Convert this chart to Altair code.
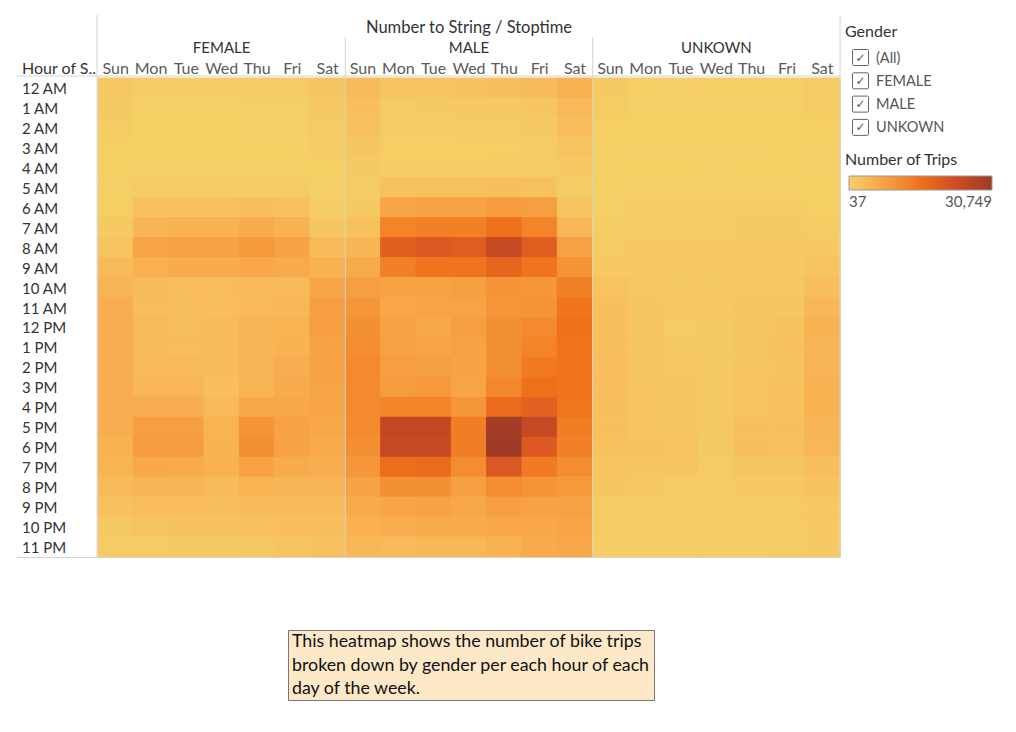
import altair as alt
import pandas as pd

days = ["Sun", "Mon", "Tue", "Wed", "Thu", "Fri", "Sat"]
genders = ["FEMALE", "MALE", "UNKOWN"]
hours = ["12 AM"] + [f"{h} AM" for h in range(1, 12)] + ["12 PM"] + [f"{h} PM" for h in range(1, 12)]

female_trips = [
    [1500, 700, 700, 700, 900, 900, 1800],
    [1200, 400, 400, 400, 450, 450, 1400],
    [900, 250, 250, 250, 300, 300, 1000],
    [600, 200, 200, 200, 200, 200, 700],
    [500, 300, 300, 300, 300, 300, 500],
    [400, 900, 900, 900, 900, 850, 400],
    [500, 2500, 2700, 2600, 3000, 2600, 700],
    [1200, 4500, 5000, 5000, 6000, 5000, 1600],
    [2000, 7000, 7500, 7500, 9000, 7500, 3500],
    [3500, 5200, 5800, 5800, 6500, 6000, 5000],
    [4500, 3500, 3300, 3300, 3800, 3800, 6800],
    [5500, 3300, 3200, 3200, 3700, 4000, 8000],
    [5500, 3700, 3300, 3600, 4500, 4800, 8000],
    [5500, 3700, 3400, 3600, 4500, 5000, 7500],
    [5500, 3900, 3800, 3500, 4500, 5500, 7500],
    [5500, 4300, 4300, 3000, 4800, 6000, 7200],
    [5500, 5500, 5500, 3800, 6500, 6500, 7000],
    [5500, 8000, 8000, 4800, 10000, 7500, 6500],
    [5000, 8500, 8500, 5000, 10500, 7500, 6200],
    [4800, 6500, 6000, 5000, 7500, 6000, 5500],
    [3500, 4500, 4500, 3500, 4800, 4500, 4500],
    [2500, 3200, 3200, 3000, 3500, 3500, 3500],
    [1500, 2000, 2300, 2300, 2500, 3000, 3000],
    [1000, 1000, 1200, 1200, 1500, 2000, 2500],
]

male_trips = [
    [3500, 2000, 2000, 2300, 2800, 3500, 5000],
    [3000, 1000, 1200, 1300, 1400, 1800, 3800],
    [2500, 700, 700, 800, 900, 1100, 3000],
    [1700, 500, 500, 600, 600, 700, 2000],
    [1200, 700, 700, 700, 800, 900, 1300],
    [900, 2500, 2700, 2700, 2800, 2500, 900],
    [1300, 7000, 7500, 7500, 8500, 8000, 2000],
    [2500, 12500, 13000, 13000, 15500, 12500, 4000],
    [4500, 19000, 20000, 19500, 24500, 19000, 7500],
    [6000, 13000, 15000, 15000, 17500, 15000, 10000],
    [8000, 7500, 7500, 8000, 10000, 9500, 13000],
    [9500, 6500, 7000, 7200, 9500, 10000, 15000],
    [10500, 7500, 6500, 8000, 10500, 11500, 15500],
    [11000, 7800, 7000, 7500, 10500, 12500, 15000],
    [11500, 8000, 8000, 7500, 10500, 14000, 15000],
    [11500, 8500, 9000, 7000, 12000, 15500, 15000],
    [11500, 12500, 12500, 9500, 16500, 18500, 14500],
    [11500, 25000, 25000, 13500, 30000, 24500, 13500],
    [10500, 24500, 24500, 13500, 30749, 20000, 13000],
    [9500, 16000, 16500, 11000, 20500, 14000, 11000],
    [7500, 10500, 10500, 8000, 11000, 10000, 9000],
    [6000, 7000, 7500, 6500, 8000, 7500, 7500],
    [5000, 5500, 6000, 6000, 6500, 6500, 7000],
    [4000, 3500, 4000, 4000, 5000, 6000, 6500],
]

unknown_trips = [
    [1200, 500, 450, 500, 550, 600, 1000],
    [800, 300, 300, 300, 300, 350, 800],
    [600, 200, 200, 200, 200, 250, 600],
    [400, 150, 150, 150, 150, 200, 400],
    [300, 200, 200, 37, 200, 200, 300],
    [250, 400, 400, 400, 400, 400, 250],
    [400, 700, 700, 700, 700, 700, 500],
    [700, 900, 900, 900, 1200, 1200, 900],
    [1000, 1300, 1300, 1300, 1400, 1400, 1300],
    [1400, 1300, 1300, 1300, 1300, 1300, 2000],
    [2200, 1500, 1200, 1200, 1500, 1500, 3000],
    [2800, 1700, 1300, 1300, 1600, 1600, 4000],
    [3000, 1700, 1000, 1200, 1600, 2300, 5000],
    [3000, 1800, 1100, 1100, 1600, 2400, 4500],
    [3200, 1800, 1500, 1100, 1700, 2300, 4500],
    [3200, 2000, 1700, 1100, 2200, 2400, 5000],
    [3000, 2000, 1800, 1100, 2200, 2500, 5000],
    [2800, 1900, 1600, 1100, 2800, 2800, 4500],
    [2500, 2300, 2200, 1100, 2800, 2600, 4200],
    [2000, 1600, 1600, 1000, 1800, 1600, 3000],
    [1600, 1500, 1000, 1000, 1400, 1300, 2300],
    [900, 900, 900, 900, 900, 900, 1400],
    [800, 800, 800, 800, 800, 800, 1300],
    [700, 700, 700, 700, 700, 900, 1200],
]

filter_items = ["(All)", "FEMALE", "MALE", "UNKOWN"]
caption_lines = [
    "This heatmap shows the number of bike trips",
    "broken down by gender per each hour of each",
    "day of the week.",
]
trip_min, trip_max = 37, 30749

rows = []
for g, table in zip(genders, [female_trips, male_trips, unknown_trips]):
    for hi, h in enumerate(hours):
        for di, d in enumerate(days):
            rows.append({"gender": g, "day": d, "col": f"{g}|{d}", "hour": h, "trips": table[hi][di]})
df = pd.DataFrame(rows)
col_order = [f"{g}|{d}" for g in genders for d in days]

FONT = "Lato"
TXT = "#333333"
GRID = "#d4d4d4"

xscale = alt.Scale(domain=col_order, paddingInner=0, paddingOuter=0)
yscale = alt.Scale(domain=hours, paddingInner=0, paddingOuter=0)
X = alt.X("col:N", scale=xscale, axis=None)
Y = alt.Y("hour:N", scale=yscale, axis=None)
cscale = alt.Scale(scheme="goldorange", domain=[trip_min, trip_max])

heat = alt.Chart(df).mark_rect(
    stroke=alt.ExprRef("scale('color', datum.trips)"), strokeWidth=1
).encode(
    x=X,
    y=Y,
    color=alt.Color(
        "trips:Q",
        scale=cscale,
        legend=alt.Legend(
            title=None,
            orient="none",
            legendX=751,
            legendY=98,
            direction="horizontal",
            gradientLength=143,
            gradientThickness=14,
            gradientStrokeColor="#999999",
            gradientStrokeWidth=1,
            values=[trip_min, trip_max],
            labelExpr="format(datum.value, ',')",
            labelFont=FONT,
            labelFontSize=15,
            labelColor="#555555",
            labelOffset=5,
        ),
    ),
    tooltip=["gender:N", "day:N", "hour:N", "trips:Q"],
)

legend_title = alt.Chart(pd.DataFrame({"t": ["Number of Trips"]})).mark_text(
    align="left", baseline="middle", font=FONT, fontSize=16, color=TXT
).encode(x=alt.value(747), y=alt.value(82), text="t:N")

hour_df = pd.DataFrame({"hour": hours})
row_labels = alt.Chart(hour_df).mark_text(
    align="left", baseline="middle", font=FONT, fontSize=15, color=TXT, dy=1
).encode(x=alt.value(-76), y=Y, text="hour:N")

col_df = pd.DataFrame({"col": col_order, "day": [c.split("|")[1] for c in col_order]})
day_labels = alt.Chart(col_df).mark_text(
    align="center", baseline="middle", font=FONT, fontSize=16, color="#5a5a5a"
).encode(x=X, y=alt.value(-9), text="day:N")

gender_df = pd.DataFrame({"col": [f"{g}|Wed" for g in genders], "gender": genders})
gender_labels = alt.Chart(gender_df).mark_text(
    align="center", baseline="middle", font=FONT, fontSize=15, color=TXT
).encode(x=X, y=alt.value(-30), text="gender:N")

title_df = pd.DataFrame({"col": ["MALE|Wed"], "t": ["Number to String / Stoptime"]})
top_title = alt.Chart(title_df).mark_text(
    align="center", baseline="middle", font=FONT, fontSize=16.5, color=TXT
).encode(x=X, y=alt.value(-50), text="t:N")

hdr_df = pd.DataFrame({"t": ["Hour of S.."]})
row_header = alt.Chart(hdr_df).mark_text(
    align="left", baseline="middle", font=FONT, fontSize=16, color=TXT
).encode(x=alt.value(-76), y=alt.value(-9), text="t:N")

sep_df = pd.DataFrame({"col": ["MALE|Sun", "UNKOWN|Sun"]})
separators = alt.Chart(sep_df).mark_rule(color=GRID, strokeWidth=1).encode(
    x=alt.X("col:N", scale=xscale, axis=None, bandPosition=0),
    y=alt.value(-41),
    y2=alt.value(479),
)

frame_v = alt.Chart(pd.DataFrame({"x": [-1, 742]})).mark_rule(color=GRID, strokeWidth=1).encode(
    x=alt.X("x:Q", scale=None), y=alt.value(-63), y2=alt.value(479)
)
frame_h = alt.Chart(pd.DataFrame({"y": [-2, 479.5]})).mark_rule(color=GRID, strokeWidth=1).encode(
    y=alt.Y("y:Q", scale=None), x=alt.value(-81), x2=alt.value(742)
)

# Gender filter card
filt_df = pd.DataFrame({"item": filter_items, "i": list(range(len(filter_items)))})
filt_title = alt.Chart(pd.DataFrame({"t": ["Gender"]})).mark_text(
    align="left", baseline="middle", font=FONT, fontSize=16, color=TXT
).encode(x=alt.value(747), y=alt.value(-46), text="t:N")
filt_boxes = alt.Chart(filt_df).mark_rect(
    fill="white", stroke="#666666", strokeWidth=1, cornerRadius=1
).transform_calculate(
    yy="-28.5 + datum.i * 23.3"
).transform_calculate(
    yy2="datum.yy + 16"
).encode(
    x=alt.value(754.5), x2=alt.value(770.5),
    y=alt.Y("yy:Q", scale=None), y2=alt.Y2("yy2:Q"),
)
filt_checks = alt.Chart(filt_df).mark_text(
    align="center", baseline="middle", font="DejaVu Sans", fontSize=12, color="#555555"
).transform_calculate(
    yy="-20.5 + datum.i * 23.3", ck="'✓'"
).encode(x=alt.value(762.5), y=alt.Y("yy:Q", scale=None), text="ck:N")
filt_text = alt.Chart(filt_df).mark_text(
    align="left", baseline="middle", font=FONT, fontSize=14.5, color="#555555"
).transform_calculate(
    yy="-19.5 + datum.i * 23.3"
).encode(x=alt.value(778), y=alt.Y("yy:Q", scale=None), text="item:N")

# Caption box
cap_box = alt.Chart(pd.DataFrame({"a": [0]})).mark_rect(
    fill="#fde8c8", stroke="#777777", strokeWidth=1
).encode(x=alt.value(190.5), x2=alt.value(556.5), y=alt.value(552.5), y2=alt.value(622.5))
cap_df = pd.DataFrame({"line": caption_lines, "i": [0, 1, 2]})
cap_text = alt.Chart(cap_df).mark_text(
    align="left", baseline="middle", font=FONT, fontSize=17.8, color="#111111"
).transform_calculate(
    yy="564 + datum.i * 23.5"
).encode(x=alt.value(194), y=alt.Y("yy:Q", scale=None), text="line:N")

chart = alt.layer(
    heat, separators, frame_v, frame_h, row_labels, day_labels, gender_labels,
    top_title, row_header, filt_title, filt_boxes, filt_checks, filt_text,
    legend_title, cap_box, cap_text,
).properties(
    width=742,
    height=479,
    autosize=alt.AutoSizeParams(type="none"),
    padding={"left": 98, "top": 78, "right": 176, "bottom": 175},
).configure_view(
    stroke=None
).configure(background="white")

chart.save("out.html", embed_options={"renderer": "svg", "actions": False})
